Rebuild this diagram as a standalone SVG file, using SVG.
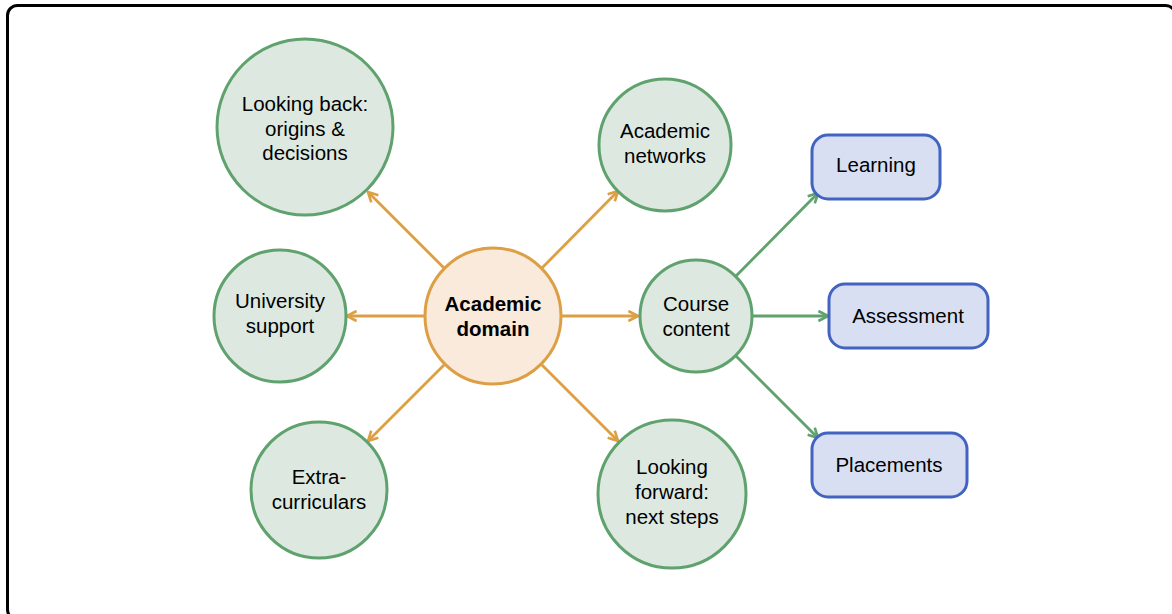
<svg xmlns="http://www.w3.org/2000/svg" width="1172" height="614" viewBox="0 0 1172 614">
<defs>
<style>
.t{font-family:"Liberation Sans",Arial,sans-serif;font-size:20.5px;fill:#000;text-anchor:middle}
.b{font-weight:bold}
.g{fill:#dde9e0;stroke:#5fa26e;stroke-width:3}
.o{fill:#f9eadb;stroke:#dd9f44;stroke-width:3}
.bl{fill:#d9dff2;stroke:#4263c0;stroke-width:3}
.eo{stroke:#dd9f44;stroke-width:2.8;fill:none;marker-end:url(#ao)}
.eg{stroke:#5fa26e;stroke-width:2.8;fill:none;marker-end:url(#ag)}
</style>
<marker id="ao" viewBox="0 0 10 10" refX="9" refY="5" markerWidth="12" markerHeight="12" markerUnits="userSpaceOnUse" orient="auto">
<path d="M1,0.8 L9,5 L1,9.2" fill="none" stroke="#dd9f44" stroke-width="2.2"/>
</marker>
<marker id="ag" viewBox="0 0 10 10" refX="9" refY="5" markerWidth="12" markerHeight="12" markerUnits="userSpaceOnUse" orient="auto">
<path d="M1,0.8 L9,5 L1,9.2" fill="none" stroke="#5fa26e" stroke-width="2.2"/>
</marker>
</defs>
<rect x="0" y="0" width="1172" height="614" fill="#fff"/>
<rect x="7.5" y="5.5" width="1168" height="614" rx="10" fill="none" stroke="#000" stroke-width="3"/>
<g id="connectors">
<line class="eo" x1="444" y1="268" x2="368" y2="192"/>
<line class="eo" x1="542" y1="268" x2="618" y2="191"/>
<line class="eo" x1="424" y1="316" x2="347" y2="316"/>
<line class="eo" x1="562" y1="316" x2="638" y2="316"/>
<line class="eo" x1="444" y1="365" x2="368" y2="441"/>
<line class="eo" x1="542" y1="365" x2="618" y2="441"/>
<line class="eg" x1="736" y1="276" x2="818" y2="193"/>
<line class="eg" x1="752" y1="316" x2="828" y2="316"/>
<line class="eg" x1="736" y1="356" x2="818" y2="438"/>
</g>
<g id="academic-domain">
<circle class="o" cx="493" cy="316" r="68"/>
<text class="t b" x="493" y="311">Academic</text>
<text class="t b" x="493" y="336">domain</text>
</g>
<g id="looking-back">
<circle class="g" cx="305" cy="127" r="88"/>
<text class="t" x="305" y="111">Looking back:</text>
<text class="t" x="305" y="136">origins &amp;</text>
<text class="t" x="305" y="160">decisions</text>
</g>
<g id="academic-networks">
<circle class="g" cx="665" cy="145" r="66"/>
<text class="t" x="665" y="138">Academic</text>
<text class="t" x="665" y="163">networks</text>
</g>
<g id="university-support">
<circle class="g" cx="280" cy="316" r="66"/>
<text class="t" x="280" y="308">University</text>
<text class="t" x="280" y="333">support</text>
</g>
<g id="course-content">
<circle class="g" cx="696" cy="316" r="56"/>
<text class="t" x="696" y="311">Course</text>
<text class="t" x="696" y="336">content</text>
</g>
<g id="extra-curriculars">
<circle class="g" cx="319" cy="490" r="68"/>
<text class="t" x="319" y="484">Extra-</text>
<text class="t" x="319" y="509">curriculars</text>
</g>
<g id="looking-forward">
<circle class="g" cx="672" cy="494" r="74"/>
<text class="t" x="672" y="474">Looking</text>
<text class="t" x="672" y="499">forward:</text>
<text class="t" x="672" y="524">next steps</text>
</g>
<g id="learning">
<rect class="bl" x="812" y="135" width="128" height="64" rx="16"/>
<text class="t" x="876" y="172">Learning</text>
</g>
<g id="assessment">
<rect class="bl" x="829" y="284" width="159" height="64" rx="16"/>
<text class="t" x="908" y="323">Assessment</text>
</g>
<g id="placements">
<rect class="bl" x="812" y="433" width="155" height="64" rx="16"/>
<text class="t" x="889" y="472">Placements</text>
</g>
</svg>
